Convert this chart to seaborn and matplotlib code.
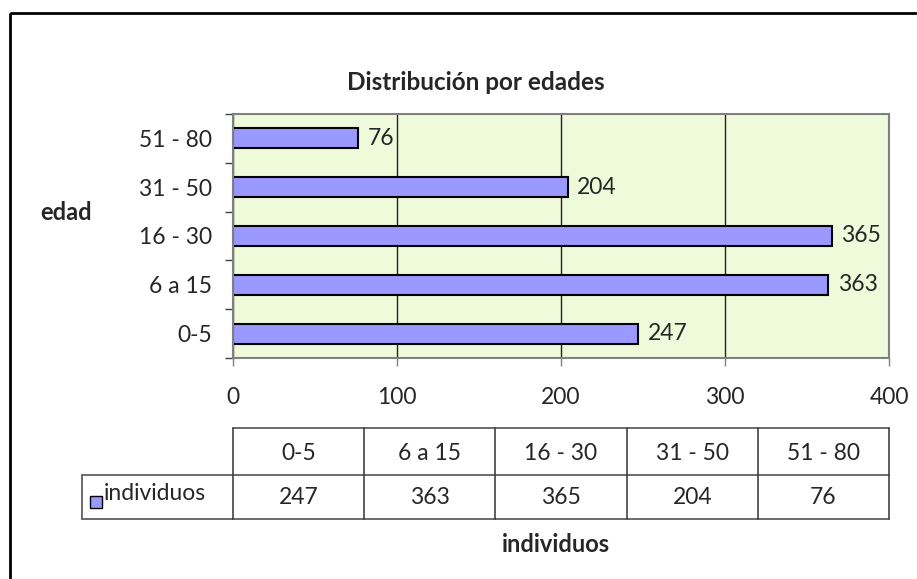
import matplotlib
matplotlib.use("Agg")
from matplotlib import pyplot as plt
from matplotlib.patches import Rectangle
import seaborn as sns
import pandas as pd
import numpy as np

# data
categories = ["0-5", "6 a 15", "16 - 30", "31 - 50", "51 - 80"]
individuos = [247, 363, 365, 204, 76]
xticks = [0, 100, 200, 300, 400]
title = "Distribución por edades"
ylabel = "edad"
series_name = "individuos"

df = pd.DataFrame({"edad": categories, "individuos": individuos})

sns.set_style("white")
plt.rcParams["font.family"] = ["Lato", "DejaVu Sans"]
FS = 16.5
BAR = "#9999FF"
BG = "#EEFAD9"

W, H = 917, 579
fig = plt.figure(figsize=(W / 100, H / 100), dpi=100)

def box(x0, y0, x1, y1):
    return [x0 / W, 1 - y1 / H, (x1 - x0) / W, (y1 - y0) / H]

# overlay for frame, table, labels (pixel coords)
ov = fig.add_axes([0, 0, 1, 1], zorder=0)
ov.set_xlim(0, W)
ov.set_ylim(H, 0)
ov.set_autoscale_on(False)
ov.axis("off")
ov.add_patch(Rectangle((10, 13), W + 20, H + 20, fill=False, lw=2, ec="black"))

ax = fig.add_axes(box(233, 114, 889, 358), zorder=1)
ax.set_facecolor(BG)
sns.barplot(data=df, x="individuos", y="edad", order=categories[::-1], orient="h",
            color=BAR, edgecolor="black", linewidth=1.5, width=0.41, saturation=1, ax=ax)
ax.set_xlim(0, 400)
ax.set_xticks(xticks)
ax.set_xticklabels([str(t) for t in xticks], fontsize=FS)
ax.grid(axis="x", color="#222222", lw=1)
ax.set_axisbelow(True)
for s in ax.spines.values():
    s.set_color("#808080")
    s.set_linewidth(1.5)
ax.tick_params(axis="x", length=6, width=1, color="#808080", direction="out", pad=15, bottom=True)
ax.set_yticks(np.arange(len(categories)))
ax.set_yticklabels(categories[::-1], fontsize=FS)
ax.tick_params(axis="y", length=0, pad=15)
ax.set_yticks(np.arange(len(categories) + 1) - 0.5, minor=True)
ax.tick_params(axis="y", which="minor", length=6, width=1, color="#404040", direction="out", left=True)
ax.set_xlabel("")
ax.set_ylabel("")
for c in ax.containers:
    ax.bar_label(c, fmt="%d", padding=7, fontsize=FS)

# title and axis labels
ov.text(476, 83, title, ha="center", va="center", fontsize=17.5, fontweight="bold")
ov.text(66, 212, ylabel, ha="center", va="center", fontsize=17, fontweight="bold")
ov.text(556, 545, series_name, ha="center", va="center", fontsize=17, fontweight="bold")

# data table
cols = np.linspace(233, 889, len(categories) + 1)
top, mid, bot, left = 428, 475, 519, 82
lc = "#606060"
ov.plot([233, 889], [top, top], color=lc, lw=1.3)
ov.plot([left, 889], [mid, mid], color=lc, lw=1.3)
ov.plot([left, 889], [bot, bot], color=lc, lw=1.3)
ov.plot([left, left], [mid, bot], color=lc, lw=1.3)
for x in cols:
    ov.plot([x, x], [top, bot], color="#333333", lw=1.1)
for i, (cat, v) in enumerate(zip(categories, individuos)):
    xc = (cols[i] + cols[i + 1]) / 2
    ov.text(xc, 453, cat, ha="center", va="center", fontsize=FS)
    ov.text(xc, 498, str(v), ha="center", va="center", fontsize=FS)
ov.add_patch(Rectangle((90, 496), 12, 12, fc=BAR, ec="black", lw=1))
ov.text(104, 494, series_name, ha="left", va="center", fontsize=FS)

plt.savefig("out.png", dpi=100)
